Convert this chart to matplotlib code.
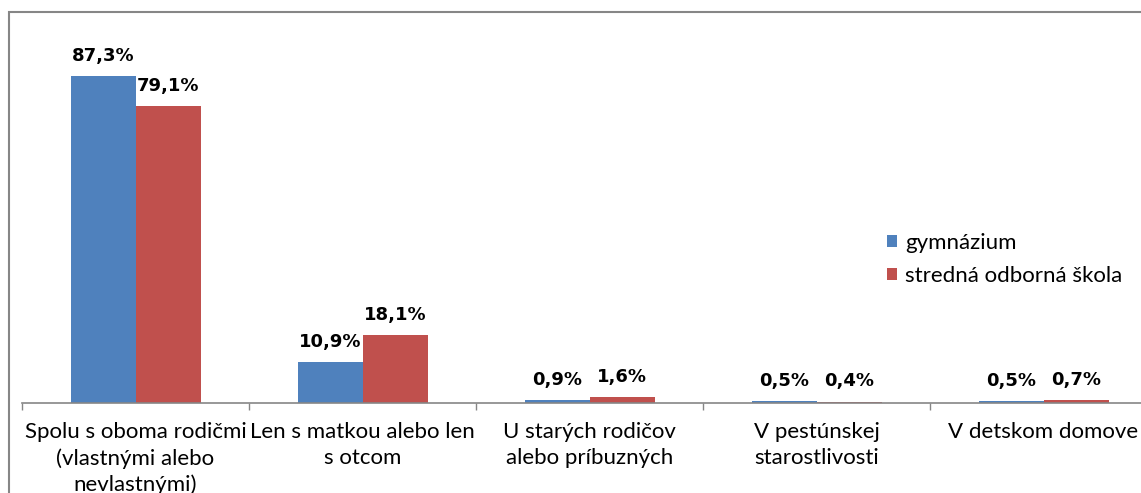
import matplotlib.pyplot as plt
import numpy as np
from matplotlib.patches import Rectangle

categories = [
    "Spolu s oboma rodičmi\n(vlastnými alebo\nnevlastnými)",
    "Len s matkou alebo len\ns otcom",
    "U starých rodičov\nalebo príbuzných",
    "V pestúnskej\nstarostlivosti",
    "V detskom domove",
]
gymnazium = [87.3, 10.9, 0.9, 0.5, 0.5]
sos = [79.1, 18.1, 1.6, 0.4, 0.7]
series_names = ["gymnázium", "stredná odborná škola"]

BLUE = "#4F81BD"
RED = "#C0504D"
GRAY = "#868686"

W, H = 1141, 493
fig = plt.figure(figsize=(W / 100, H / 100), dpi=100)

# chart border (cut off at right and bottom like the original)
fig.patches.append(Rectangle((9 / W, -0.1), 1.2, 1.1 - 12 / H,
                             transform=fig.transFigure, fill=False,
                             edgecolor=GRAY, linewidth=1.5))

left, right, bottom, top = 22, 1157, 403, 28
ax = fig.add_axes([left / W, 1 - bottom / H, (right - left) / W, (bottom - top) / H])

x = np.arange(len(categories))
bw = 65 / 227
b1 = ax.bar(x - bw / 2, gymnazium, bw, color=BLUE, label=series_names[0])
b2 = ax.bar(x + bw / 2, sos, bw, color=RED, label=series_names[1])

for bars, vals in ((b1, gymnazium), (b2, sos)):
    for rect, v in zip(bars, vals):
        ax.annotate(f"{v:.1f}%".replace(".", ","),
                    (rect.get_x() + rect.get_width() / 2, v),
                    xytext=(0, 8), textcoords="offset points",
                    ha="center", va="bottom", fontsize=13,
                    fontweight="bold", family="DejaVu Sans", color="black")

ax.set_xlim(-0.5, len(categories) - 0.5)
ax.set_ylim(0, 100)
ax.set_yticks([])
for s in ("top", "right", "left"):
    ax.spines[s].set_visible(False)
ax.spines["bottom"].set_color(GRAY)
ax.spines["bottom"].set_linewidth(1.2)

ax.set_xticks(np.arange(len(categories) + 1) - 0.5, minor=False)
ax.set_xticklabels([])
ax.tick_params(axis="x", which="major", length=5, color=GRAY, width=1)
ax.set_xticks(x, minor=True)
ax.set_xticklabels(categories, minor=True, fontsize=16, family="Lato",
                   linespacing=1.35, va="top")
ax.tick_params(axis="x", which="minor", length=0, pad=14, labelcolor="black")

leg = fig.legend(loc="upper left", bbox_to_anchor=(867 / W, 1 - 213 / H),
                 frameon=False, prop={"family": "Lato", "size": 16},
                 handlelength=0.45, handleheight=0.45, handletextpad=0.35,
                 labelspacing=0.6)

fig.savefig("out.png", dpi=100)
